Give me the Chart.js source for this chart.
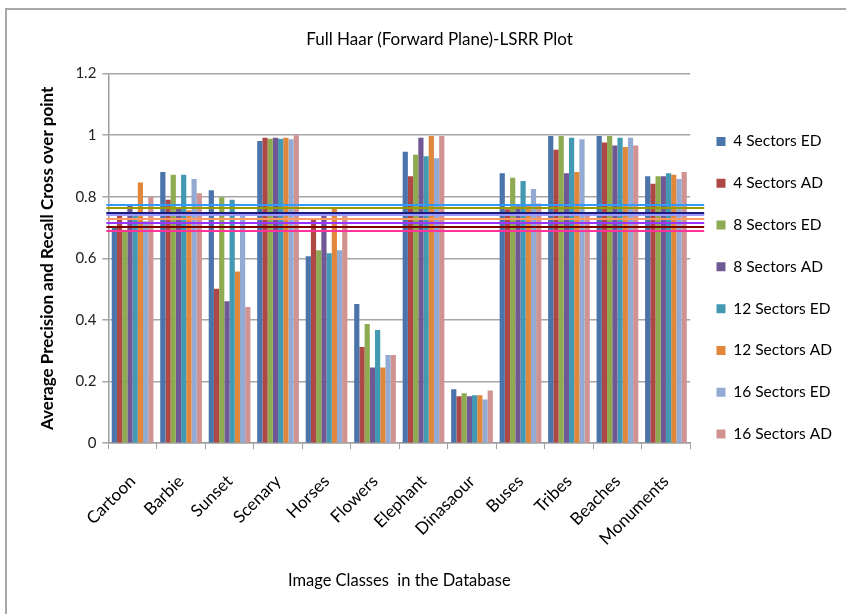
<!DOCTYPE html>
<html lang="en">
<head>
<meta charset="UTF-8" />
<title>Full Haar (Forward Plane)-LSRR Plot</title>
<script src="https://cdn.jsdelivr.net/npm/chart.js"></script>
<style>
    * { margin: 0; padding: 0; box-sizing: border-box; }
    body { background: #ffffff; width: 846px; height: 614px; overflow: hidden; position: relative; }
    .frame { position: absolute; left: 5px; top: 8px; width: 900px; height: 700px; border: 2px solid #a8a8a8; }
    #chart { position: absolute; left: 0; top: 0; }
</style>
</head>
<body>
<div class="frame"></div>
<canvas id="chart" width="846" height="614"></canvas>
<script>
const categories = ['Cartoon', 'Barbie', 'Sunset', 'Scenary', 'Horses', 'Flowers', 'Elephant', 'Dinasaour', 'Buses', 'Tribes', 'Beaches', 'Monuments'];
const seriesNames = ['4 Sectors ED', '4 Sectors AD', '8 Sectors ED', '8 Sectors AD', '12 Sectors ED', '12 Sectors AD', '16 Sectors ED', '16 Sectors AD'];

const sectors4ED  = [0.704, 0.880, 0.821, 0.981, 0.607, 0.452, 0.946, 0.175, 0.876, 0.997, 0.997, 0.866];
const sectors4AD  = [0.747, 0.790, 0.501, 0.991, 0.727, 0.312, 0.866, 0.152, 0.759, 0.952, 0.976, 0.842];
const sectors8ED  = [0.693, 0.871, 0.798, 0.988, 0.626, 0.387, 0.936, 0.162, 0.861, 0.997, 0.997, 0.866];
const sectors8AD  = [0.772, 0.764, 0.461, 0.991, 0.748, 0.246, 0.991, 0.152, 0.769, 0.876, 0.966, 0.866];
const sectors12ED = [0.742, 0.871, 0.790, 0.988, 0.616, 0.367, 0.931, 0.156, 0.851, 0.991, 0.991, 0.876];
const sectors12AD = [0.846, 0.756, 0.557, 0.991, 0.762, 0.246, 0.997, 0.156, 0.774, 0.880, 0.961, 0.871];
const sectors16ED = [0.720, 0.857, 0.747, 0.986, 0.626, 0.286, 0.925, 0.142, 0.825, 0.986, 0.991, 0.857];
const sectors16AD = [0.800, 0.811, 0.442, 0.999, 0.748, 0.286, 0.997, 0.171, 0.778, 0.750, 0.966, 0.880];

// cross over levels, drawn as horizontal lines on top of the bars
const crossLevels = [0.774, 0.764, 0.748, 0.742, 0.727, 0.715, 0.702, 0.688];

const yTicks = [0, 0.2, 0.4, 0.6, 0.8, 1, 1.2];

const barColors = ['#4a74aa', '#ad4845', '#8fab52', '#6f5894', '#4399b2', '#e0873c', '#93abd2', '#d09391'];
const crossColors = ['#3399ff', '#999900', '#1a1a80', '#9999ff', '#ff9966', '#9933ff', '#800000', '#ff3399'];

const seriesValues = [sectors4ED, sectors4AD, sectors8ED, sectors8AD, sectors12ED, sectors12AD, sectors16ED, sectors16AD];

const font = 'Lato, "Open Sans", sans-serif';

// horizontal cross over lines, placed with the y scale
const crossLines = {
    id: 'crossLines',
    afterDatasetsDraw(chart) {
        const { ctx, chartArea, scales } = chart;
        ctx.save();
        ctx.lineWidth = 2;
        crossLevels.forEach((v, i) => {
            const y = Math.round(scales.y.getPixelForValue(v));
            ctx.strokeStyle = crossColors[i];
            ctx.beginPath();
            ctx.moveTo(chartArea.left - 2, y);
            ctx.lineTo(chartArea.right + 14, y);
            ctx.stroke();
        });
        ctx.restore();
    }
};

new Chart(document.getElementById('chart').getContext('2d'), {
    type: 'bar',
    data: {
        labels: categories,
        datasets: seriesValues.map((vals, i) => ({
            label: seriesNames[i],
            data: vals,
            backgroundColor: barColors[i],
            borderWidth: 0,
            categoryPercentage: 0.86,
            barPercentage: 1.0
        }))
    },
    plugins: [crossLines],
    options: {
        responsive: false,
        animation: false,
        layout: { padding: { left: 37, right: 4, top: 21, bottom: 23 } },
        plugins: {
            title: {
                display: true,
                text: 'Full Haar (Forward Plane)-LSRR Plot',
                color: '#000',
                font: { family: font, size: 17, weight: 'normal' },
                padding: { top: 8, bottom: 24 }
            },
            legend: {
                position: 'right',
                align: 'start',
                title: { display: true, text: '', padding: 36 },
                labels: {
                    boxWidth: 9,
                    boxHeight: 9,
                    padding: 26.3,
                    color: '#000',
                    font: { family: font, size: 15.5 }
                }
            },
            tooltip: { enabled: false }
        },
        scales: {
            x: {
                offset: true,
                grid: { offset: true, drawOnChartArea: false, drawTicks: true, tickLength: 6, color: '#9e9e9e' },
                border: { color: '#9e9e9e', width: 1.5 },
                ticks: { minRotation: 45, maxRotation: 45, padding: 22, color: '#000', font: { family: font, size: 17 } },
                title: {
                    display: true,
                    text: 'Image Classes  in the Database',
                    color: '#000',
                    font: { family: font, size: 16.5 },
                    padding: { top: 0, bottom: 0 }
                }
            },
            y: {
                min: 0,
                max: 1.2,
                afterBuildTicks: axis => { axis.ticks = yTicks.map(v => ({ value: v })); },
                grid: { color: '#a6a6a6', lineWidth: 1.5, tickLength: 6 },
                border: { color: '#9e9e9e', width: 1.5 },
                ticks: { color: '#222', padding: 6, font: { family: font, size: 15 }, callback: v => String(v) },
                title: {
                    display: true,
                    text: 'Average Precision and Recall Cross over point',
                    color: '#000',
                    font: { family: font, size: 17, weight: 'bold' },
                    padding: { top: 0, bottom: 12 }
                }
            }
        }
    }
});
</script>
</body>
</html>
